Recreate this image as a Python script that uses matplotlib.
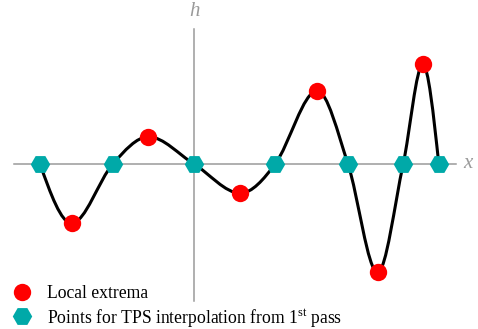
import matplotlib
matplotlib.use("Agg")
import matplotlib.pyplot as plt
import numpy as np
from matplotlib.path import Path
from matplotlib.patches import PathPatch

SERIF = 'Liberation Serif'
plt.rcParams['font.family'] = [SERIF, 'DejaVu Serif']
plt.rcParams['mathtext.fontset'] = 'custom'
plt.rcParams['mathtext.rm'] = SERIF
plt.rcParams['mathtext.it'] = SERIF + ':italic'

# zero crossings (points used for TPS interpolation)
zero_x = [-3.85, -2.03, 0.0, 2.03, 3.85, 5.23, 6.12]
zero_y = [0, 0, 0, 0, 0, 0, 0]

# local extrema
ext_x = [-3.06, -1.14, 1.16, 3.08, 4.59, 5.72]
ext_y = [-1.48, 0.68, -0.73, 1.83, -2.71, 2.49]

red = '#ff0000'
teal = '#00a9a8'
grey = '#9a9a9a'

fig = plt.figure(figsize=(4.78, 3.29), dpi=100)
ax = fig.add_axes([0, 0, 1, 1])
ax.set_xlim(-4.85, 7.1)
ax.set_ylim(-4.125, 4.1)
ax.axis('off')

# axes lines
ax.plot([-4.5, 6.55], [0, 0], color=grey, lw=1.1, zorder=1)
ax.plot([0, 0], [-3.43, 3.38], color=grey, lw=1.1, zorder=1)
ax.text(6.72, 0.0, 'x', color=grey, fontsize=15, fontstyle='italic',
        family=SERIF, ha='left', va='center')
ax.text(0.0, 3.8, 'h', color=grey, fontsize=15, fontstyle='italic',
        family=SERIF, ha='center', va='center')

# smooth curve through all knots (cubic Bezier segments)
kx = np.array(zero_x + ext_x, dtype=float)
ky = np.array(zero_y + ext_y, dtype=float)
order = np.argsort(kx)
kx, ky = kx[order], ky[order]
is_ext = np.isin(kx, ext_x)
slope = np.zeros(len(kx))
for i in range(len(kx)):
    if is_ext[i]:
        slope[i] = 0.0
    elif i == 0:
        slope[i] = 1.5 * (ky[1] - ky[0]) / (kx[1] - kx[0])
    elif i == len(kx) - 1:
        slope[i] = 1.5 * (ky[i] - ky[i - 1]) / (kx[i] - kx[i - 1])
    else:
        slope[i] = (ky[i + 1] - ky[i - 1]) / (kx[i + 1] - kx[i - 1])

verts = [(kx[0], ky[0])]
codes = [Path.MOVETO]
for i in range(len(kx) - 1):
    d = (kx[i + 1] - kx[i]) / 3
    verts += [(kx[i] + d, ky[i] + slope[i] * d),
              (kx[i + 1] - d, ky[i + 1] - slope[i + 1] * d),
              (kx[i + 1], ky[i + 1])]
    codes += [Path.CURVE4] * 3
ax.add_patch(PathPatch(Path(verts, codes), fill=False, lw=2.2,
                       edgecolor='black', zorder=2))

ax.plot(ext_x, ext_y, 'o', color=red, ms=12.5, mec='none', zorder=4,
        label='Local extrema')
ax.plot(zero_x, zero_y, 'H', color=teal, ms=14, mec='none', zorder=3,
        label='Points for TPS interpolation from 1$^{\\mathrm{st}}$ pass')

ax.legend(loc='lower left', bbox_to_anchor=(0.012, -0.02), frameon=False,
          prop={'family': SERIF, 'size': 12.7}, handlelength=1.0,
          handletextpad=0.95, labelspacing=0.25, borderaxespad=0.0)

fig.savefig('out.png', dpi=100)
